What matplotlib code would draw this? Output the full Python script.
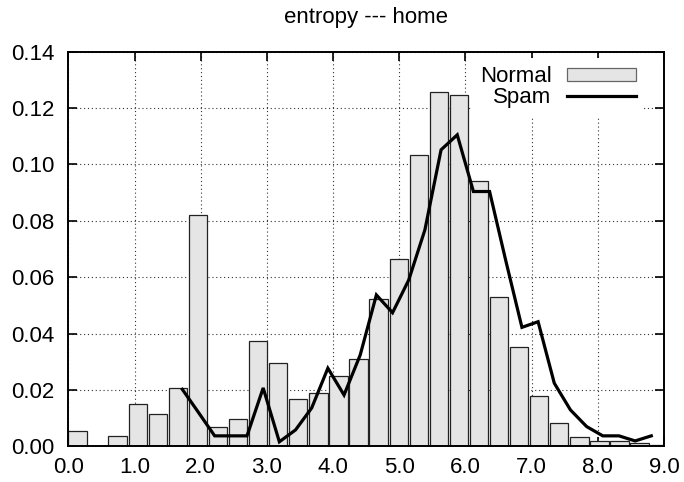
import numpy as np
import matplotlib
matplotlib.use("Agg")
import matplotlib.pyplot as plt
from matplotlib.patches import Patch
from matplotlib.lines import Line2D

plt.rcParams['font.family'] = ['Liberation Sans', 'DejaVu Sans']

# normal traffic: 30 histogram bins over [0, 9.1]
normal_edges = np.linspace(0.0, 9.1, 31)
normal_freq = [0.0055, 0.0, 0.0037, 0.0149, 0.0114, 0.0208, 0.0821, 0.0067,
               0.0096, 0.0374, 0.0297, 0.0167, 0.0188, 0.0250, 0.0310, 0.0522,
               0.0666, 0.1032, 0.1257, 0.1247, 0.0942, 0.0529, 0.0352, 0.0179,
               0.0084, 0.0032, 0.0019, 0.0019, 0.0013, 0.0005]

# spam: 30 histogram bins over [1.6, 8.93], plotted at bin centres
spam_edges = np.linspace(1.6, 8.93, 31)
spam_freq = [0.0202, 0.0120, 0.0037, 0.0037, 0.0037, 0.0207, 0.0016, 0.0058,
             0.0136, 0.0277, 0.0182, 0.0324, 0.0537, 0.0474, 0.0590, 0.0768,
             0.1052, 0.1105, 0.0904, 0.0904, 0.0659, 0.0422, 0.0442, 0.0224,
             0.0129, 0.0070, 0.0037, 0.0037, 0.0019, 0.0037]

title = 'entropy --- home'
xticks = np.arange(0, 9.01, 1.0)
yticks = np.arange(0, 0.1401, 0.02)

FS = 16
fig = plt.figure(figsize=(6.84, 4.82), dpi=100)
ax = fig.add_axes([0.0999, 0.0741, 0.8709, 0.8186])

bw = np.diff(normal_edges)
ax.bar(normal_edges[:-1], normal_freq, width=0.91 * bw, align='edge',
       color='#e5e5e5', edgecolor='#222222', linewidth=0.9, zorder=1)
spam_x = 0.5 * (spam_edges[:-1] + spam_edges[1:])
ax.plot(spam_x, spam_freq, color='black', lw=2.3, solid_joinstyle='miter', zorder=3)

ax.set_xlim(0, 9)
ax.set_ylim(0, 0.14)
ax.set_xticks(xticks)
ax.set_yticks(yticks)
ax.set_xticklabels([f'{v:.1f}' for v in xticks])
ax.set_yticklabels([f'{v:.2f}' for v in yticks])
ax.tick_params(direction='in', length=6.5, width=1.2, top=True, right=True,
               labelsize=FS)
ax.tick_params(axis='x', pad=8)
ax.tick_params(axis='y', pad=10)
ax.set_axisbelow(True)
ax.grid(True, color='#333333', linestyle=(0, (1, 2.5)), linewidth=0.8)
for s in ax.spines.values():
    s.set_linewidth(1.4)
    s.set_zorder(4)

ax.set_title(title, fontsize=FS, pad=21)

handles = [Patch(facecolor='#e5e5e5', edgecolor='#666666', linewidth=0.9),
           Line2D([], [], color='black', lw=2.3)]
leg = ax.legend(handles, ['Normal', 'Spam'], loc='upper right', fontsize=FS,
                bbox_to_anchor=(0.977, 1.0),
                markerfirst=False, frameon=True, fancybox=False,
                facecolor='white', edgecolor='none', framealpha=1.0,
                handlelength=3.1, handleheight=0.55, handletextpad=0.7,
                labelspacing=0.0, borderpad=0.35, borderaxespad=0.3)
leg.set_zorder(5)

fig.savefig('out.png', dpi=100)
